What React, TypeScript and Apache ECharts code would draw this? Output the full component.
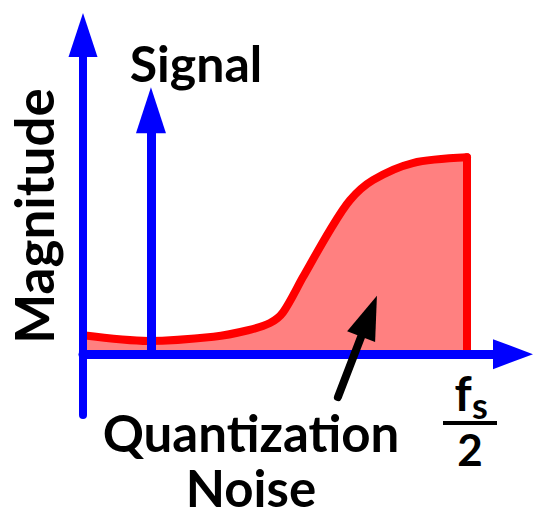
import React, { useEffect, useRef } from "react";
import * as echarts from "echarts";

// Normalised frequency (fs/2 = 1) and noise magnitude
const frequency = [0, 0.17, 0.34, 0.43, 0.487, 0.521, 0.573, 0.643, 0.695, 0.755, 0.859, 1.0];
const noiseMagnitude = [0.5, 0.35, 0.46, 0.63, 0.82, 1.1, 2.03, 3.26, 4.05, 4.58, 5.03, 5.18];

const signalFrequency = 0.177;
const signalMagnitude = 6.42;

const nyquist = 1.0;
const nyquistLabelTop = "f";
const nyquistLabelSub = "s";
const nyquistLabelBottom = "2";

const arrowFrom = [0.664, -1.13];
const arrowTo = [0.745, 1.0];

const xRange = [0, 1.12];
const yRange = [-1.6, 8.4];

const FONT = "Lato, 'Open Sans', sans-serif";

export default function App() {
  const ref = useRef<HTMLDivElement>(null);
  useEffect(() => {
    if (!ref.current) return;
    const chart = echarts.init(ref.current, null, { renderer: "svg" });
    const blue = "#0000FF";
    const red = "#FF0000";
    const fill = "#FF8080";
    chart.setOption({
      animation: false,
      backgroundColor: "#ffffff",
      grid: { left: 83, right: 22, top: 35, bottom: 110, containLabel: false, outerBoundsMode: "none" },
      xAxis: {
        type: "value",
        min: xRange[0],
        max: xRange[1],
        z: 10,
        axisLine: {
          show: true,
          onZero: true,
          symbol: ["none", "triangle"],
          symbolSize: [30, 40],
          lineStyle: { color: blue, width: 9 },
        },
        axisTick: { show: false },
        axisLabel: { show: false },
        splitLine: { show: false },
      },
      yAxis: {
        type: "value",
        min: yRange[0],
        max: yRange[1],
        z: 10,
        axisLine: {
          show: true,
          onZero: true,
          symbol: ["none", "triangle"],
          symbolSize: [29, 44],
          lineStyle: { color: blue, width: 8, cap: "round" },
        },
        axisTick: { show: false },
        axisLabel: { show: false },
        splitLine: { show: false },
      },
      series: [
        {
          type: "line",
          name: "Quantization Noise",
          data: frequency.map((f, i) => [f, noiseMagnitude[i]]),
          smooth: 0.3,
          symbol: "none",
          z: 2,
          lineStyle: { color: red, width: 8, cap: "round", join: "round" },
          areaStyle: { color: fill, opacity: 1 },
          silent: true,
        },
        {
          type: "lines",
          coordinateSystem: "cartesian2d",
          z: 2,
          silent: true,
          symbol: ["none", "none"],
          lineStyle: { color: red, width: 8, cap: "round", opacity: 1 },
          data: [{ coords: [[nyquist, 0], [nyquist, noiseMagnitude[noiseMagnitude.length - 1]]] }],
        },
        {
          type: "lines",
          name: "Signal",
          coordinateSystem: "cartesian2d",
          z: 3,
          silent: true,
          symbol: ["none", "triangle"],
          symbolSize: [1, [30, 46]],
          lineStyle: { color: blue, width: 9, opacity: 1 },
          data: [{ coords: [[signalFrequency, 0], [signalFrequency, signalMagnitude]] }],
        },
        {
          type: "lines",
          coordinateSystem: "cartesian2d",
          z: 20,
          silent: true,
          symbol: ["none", "triangle"],
          symbolSize: [1, [30, 44]],
          lineStyle: { color: "#000000", width: 8, cap: "round", opacity: 1 },
          data: [{ coords: [arrowFrom, arrowTo] }],
        },
      ],
      graphic: [
        {
          type: "text",
          z: 100,
          x: 196,
          y: 63,
          style: { text: "Signal", font: `bold 50px ${FONT}`, fill: "#000", align: "center", verticalAlign: "middle" },
        },
        {
          type: "text",
          z: 100,
          x: 33,
          y: 216,
          rotation: Math.PI / 2,
          style: { text: "Magnitude", font: `bold 53px ${FONT}`, fill: "#000", align: "center", verticalAlign: "middle" },
        },
        {
          type: "text",
          z: 100,
          x: 251,
          y: 460,
          style: {
            text: "Quantization\nNoise",
            font: `bold 51px ${FONT}`,
            lineHeight: 55,
            fill: "#000",
            align: "center",
            verticalAlign: "middle",
          },
        },
        {
          type: "text",
          z: 100,
          x: 463,
          y: 392,
          style: { text: nyquistLabelTop, font: `bold 48px ${FONT}`, fill: "#000", align: "center", verticalAlign: "middle" },
        },
        {
          type: "text",
          z: 100,
          x: 480,
          y: 405,
          style: { text: nyquistLabelSub, font: `bold 36px ${FONT}`, fill: "#000", align: "center", verticalAlign: "middle" },
        },
        {
          type: "line",
          z: 100,
          shape: { x1: 443, y1: 423, x2: 497, y2: 423 },
          style: { stroke: "#000", lineWidth: 4 },
        },
        {
          type: "text",
          z: 100,
          x: 470,
          y: 449,
          style: { text: nyquistLabelBottom, font: `bold 44px ${FONT}`, fill: "#000", align: "center", verticalAlign: "middle" },
        },
      ],
    });
    return () => chart.dispose();
  }, []);
  return <div ref={ref} style={{ position: "absolute", left: 0, top: 0, width: 535, height: 525 }} />;
}
